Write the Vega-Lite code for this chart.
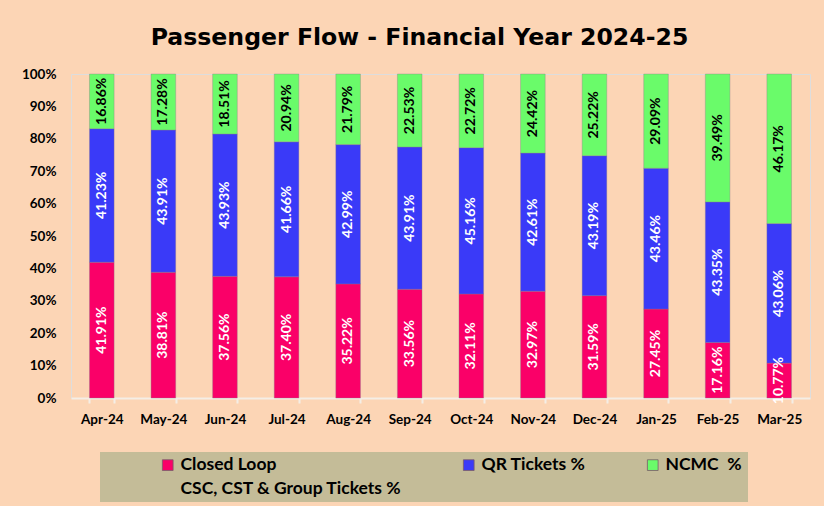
{
  "$schema": "https://vega.github.io/schema/vega-lite/v6.json",
  "width": 739,
  "height": 324,
  "autosize": {"type": "none"},
  "padding": {"left": 71, "top": 74, "right": 14, "bottom": 108},
  "background": "#FCD5B5",
  "config": {"style": {"guide-label": {"lineHeight": 24}}},
  "title": {
    "text": "Passenger Flow - Financial Year 2024-25",
    "font": "DejaVu Sans",
    "fontSize": 23.6,
    "fontWeight": "bold",
    "color": "#000000",
    "anchor": "middle",
    "frame": "group",
    "dx": -21,
    "offset": 17
  },
  "data": {
    "values": [
      {"month": "Apr-24", "series": "Closed Loop CSC, CST & Group Tickets %", "value": 41.91},
      {"month": "Apr-24", "series": "QR Tickets %", "value": 41.23},
      {"month": "Apr-24", "series": "NCMC %", "value": 16.86},
      {"month": "May-24", "series": "Closed Loop CSC, CST & Group Tickets %", "value": 38.81},
      {"month": "May-24", "series": "QR Tickets %", "value": 43.91},
      {"month": "May-24", "series": "NCMC %", "value": 17.28},
      {"month": "Jun-24", "series": "Closed Loop CSC, CST & Group Tickets %", "value": 37.56},
      {"month": "Jun-24", "series": "QR Tickets %", "value": 43.93},
      {"month": "Jun-24", "series": "NCMC %", "value": 18.51},
      {"month": "Jul-24", "series": "Closed Loop CSC, CST & Group Tickets %", "value": 37.40},
      {"month": "Jul-24", "series": "QR Tickets %", "value": 41.66},
      {"month": "Jul-24", "series": "NCMC %", "value": 20.94},
      {"month": "Aug-24", "series": "Closed Loop CSC, CST & Group Tickets %", "value": 35.22},
      {"month": "Aug-24", "series": "QR Tickets %", "value": 42.99},
      {"month": "Aug-24", "series": "NCMC %", "value": 21.79},
      {"month": "Sep-24", "series": "Closed Loop CSC, CST & Group Tickets %", "value": 33.56},
      {"month": "Sep-24", "series": "QR Tickets %", "value": 43.91},
      {"month": "Sep-24", "series": "NCMC %", "value": 22.53},
      {"month": "Oct-24", "series": "Closed Loop CSC, CST & Group Tickets %", "value": 32.11},
      {"month": "Oct-24", "series": "QR Tickets %", "value": 45.16},
      {"month": "Oct-24", "series": "NCMC %", "value": 22.72},
      {"month": "Nov-24", "series": "Closed Loop CSC, CST & Group Tickets %", "value": 32.97},
      {"month": "Nov-24", "series": "QR Tickets %", "value": 42.61},
      {"month": "Nov-24", "series": "NCMC %", "value": 24.42},
      {"month": "Dec-24", "series": "Closed Loop CSC, CST & Group Tickets %", "value": 31.59},
      {"month": "Dec-24", "series": "QR Tickets %", "value": 43.19},
      {"month": "Dec-24", "series": "NCMC %", "value": 25.22},
      {"month": "Jan-25", "series": "Closed Loop CSC, CST & Group Tickets %", "value": 27.45},
      {"month": "Jan-25", "series": "QR Tickets %", "value": 43.46},
      {"month": "Jan-25", "series": "NCMC %", "value": 29.09},
      {"month": "Feb-25", "series": "Closed Loop CSC, CST & Group Tickets %", "value": 17.16},
      {"month": "Feb-25", "series": "QR Tickets %", "value": 43.35},
      {"month": "Feb-25", "series": "NCMC %", "value": 39.49},
      {"month": "Mar-25", "series": "Closed Loop CSC, CST & Group Tickets %", "value": 10.77},
      {"month": "Mar-25", "series": "QR Tickets %", "value": 43.06},
      {"month": "Mar-25", "series": "NCMC %", "value": 46.17}
    ]
  },
  "transform": [
    {"calculate": "indexof(['Closed Loop CSC, CST & Group Tickets %', 'QR Tickets %', 'NCMC %'], datum.series)", "as": "k"},
    {"stack": "value", "groupby": ["month"], "sort": [{"field": "k", "order": "ascending"}], "as": ["y0", "y1"]},
    {"calculate": "(datum.y0 + datum.y1) / 2", "as": "mid"},
    {"calculate": "format(datum.value, '.2f') + '%'", "as": "lbl"}
  ],
  "encoding": {
    "x": {
      "field": "month",
      "type": "ordinal",
      "sort": null,
      "title": null,
      "scale": {"paddingInner": 0.6, "paddingOuter": 0.3},
      "axis": {
        "labelAngle": 0,
        "labelFont": "Lato",
        "labelFontSize": 13.5,
        "labelFontWeight": "bold",
        "labelColor": "#000000",
        "labelPadding": 9,
        "domainColor": "#F4EEE6",
        "domainWidth": 2,
        "tickColor": "#F4EEE6",
        "tickWidth": 2,
        "tickSize": 5,
        "tickBand": "extent",
        "zindex": 0
      }
    }
  },
  "layer": [
    {
      "mark": {"type": "bar", "stroke": "#8a7a8a", "strokeWidth": 0.6, "strokeOpacity": 0.6},
      "encoding": {
        "y": {
          "field": "y0",
          "type": "quantitative",
          "scale": {"domain": [0, 100]},
          "title": null,
          "axis": {
            "values": [0, 10, 20, 30, 40, 50, 60, 70, 80, 90, 100],
            "labelExpr": "datum.value + '%'",
            "labelOverlap": false,
            "labelFont": "Lato",
            "labelFontSize": 13.5,
            "labelFontWeight": "bold",
            "labelColor": "#000000",
            "labelPadding": 15,
            "domain": false,
            "ticks": false,
            "grid": false
          }
        },
        "y2": {"field": "y1"},
        "color": {
          "field": "series",
          "type": "nominal",
          "scale": {
            "domain": ["Closed Loop CSC, CST & Group Tickets %", "QR Tickets %", "NCMC %"],
            "range": ["#FA0068", "#3A3AF8", "#6AFB6A"]
          },
          "legend": {
            "orient": "none",
            "legendX": 29,
            "legendY": 378,
            "direction": "horizontal",
            "columns": 3,
            "columnPadding": 58,
            "fillColor": "#C4BC98",
            "padding": 4,
            "title": " ",
            "titleOrient": "left",
            "titlePadding": 55,
            "labelFont": "Lato",
            "labelFontSize": 17.5,
            "labelFontWeight": "bold",
            "labelColor": "#000000",
            "labelLimit": 400,
            "labelOffset": 4,
            "labelExpr": "datum.label == 'NCMC %' ? ['NCMC\u00a0 %', '\u2800\u2800\u2800\u2800\u2800\u2800'] : datum.label == 'QR Tickets %' ? [datum.label, ' '] : ['Closed Loop', 'CSC, CST & Group Tickets %']",
            "symbolType": "square",
            "symbolSize": 115,
            "symbolStrokeColor": "#7a5a6a",
            "symbolStrokeWidth": 0.8
          }
        }
      }
    },
    {
      "mark": {"type": "text", "angle": 270, "font": "Lato", "fontSize": 14, "fontWeight": "bold", "align": "center", "baseline": "middle"},
      "encoding": {
        "y": {
          "field": "mid",
          "type": "quantitative",
          "title": null,
          "axis": {
            "values": [0, 10, 20, 30, 40, 50, 60, 70, 80, 90, 100],
            "labelExpr": "datum.value + '%'",
            "labelOverlap": false,
            "labelFont": "Lato",
            "labelFontSize": 13.5,
            "labelFontWeight": "bold",
            "labelColor": "#000000",
            "labelPadding": 15,
            "domain": false,
            "ticks": false,
            "grid": false
          }
        },
        "text": {"field": "lbl"},
        "color": {
          "condition": {"test": "datum.series == 'NCMC %'", "value": "#000000"},
          "value": "#FFFFFF"
        }
      }
    }
  ]
}
